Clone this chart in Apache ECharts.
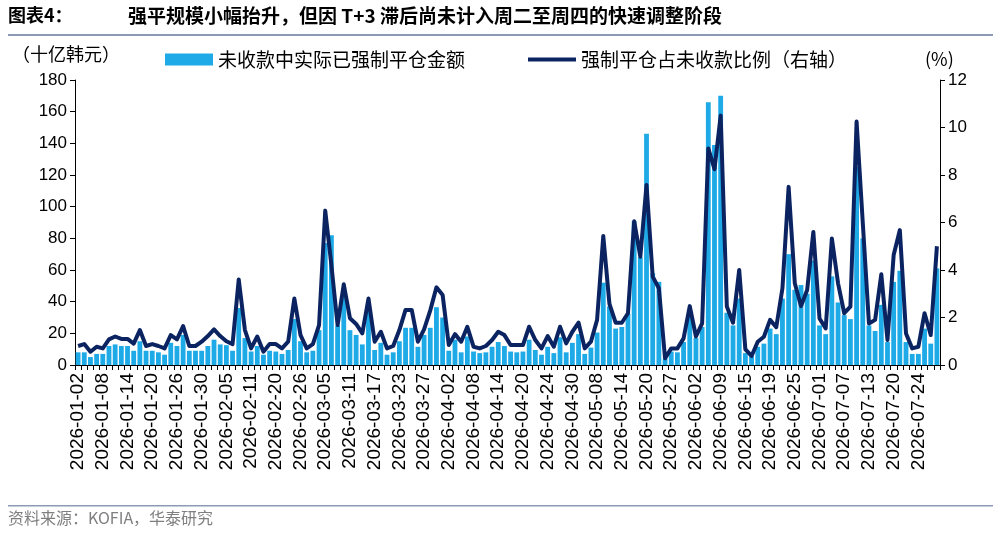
<!DOCTYPE html>
<html>
<head>
<meta charset="utf-8">
<script src="https://cdn.jsdelivr.net/npm/echarts@6/dist/echarts.min.js"></script>
<style>
  html, body { margin: 0; padding: 0; background: #fff; }
  #chart { width: 993px; height: 537px; }
</style>
</head>
<body>
<div id="chart"></div>
<script>
// --- DATEN ---
const dates = [
  '2026-01-02','2026-01-05','2026-01-06','2026-01-07','2026-01-08','2026-01-09','2026-01-12','2026-01-13','2026-01-14','2026-01-15',
  '2026-01-16','2026-01-19','2026-01-20','2026-01-21','2026-01-22','2026-01-23','2026-01-26','2026-01-27','2026-01-28','2026-01-29',
  '2026-01-30','2026-02-02','2026-02-03','2026-02-04','2026-02-05','2026-02-06','2026-02-09','2026-02-10','2026-02-11','2026-02-12',
  '2026-02-13','2026-02-19','2026-02-20','2026-02-23','2026-02-24','2026-02-25','2026-02-26','2026-02-27','2026-03-03','2026-03-04',
  '2026-03-05','2026-03-06','2026-03-09','2026-03-10','2026-03-11','2026-03-12','2026-03-13','2026-03-16','2026-03-17','2026-03-18',
  '2026-03-19','2026-03-20','2026-03-23','2026-03-24','2026-03-25','2026-03-26','2026-03-27','2026-03-30','2026-03-31','2026-04-01',
  '2026-04-02','2026-04-03','2026-04-06','2026-04-07','2026-04-08','2026-04-09','2026-04-10','2026-04-13','2026-04-14','2026-04-15',
  '2026-04-16','2026-04-17','2026-04-20','2026-04-21','2026-04-22','2026-04-23','2026-04-24','2026-04-27','2026-04-28','2026-04-29',
  '2026-04-30','2026-05-04','2026-05-06','2026-05-07','2026-05-08','2026-05-11','2026-05-12','2026-05-13','2026-05-14','2026-05-15',
  '2026-05-18','2026-05-19','2026-05-20','2026-05-21','2026-05-22','2026-05-26','2026-05-27','2026-05-28','2026-05-29','2026-06-01',
  '2026-06-02','2026-06-04','2026-06-05','2026-06-08','2026-06-09','2026-06-10','2026-06-11','2026-06-12','2026-06-15','2026-06-16',
  '2026-06-17','2026-06-18','2026-06-19','2026-06-22','2026-06-23','2026-06-24','2026-06-25','2026-06-26','2026-06-29','2026-06-30',
  '2026-07-01','2026-07-02','2026-07-03','2026-07-06','2026-07-07','2026-07-08','2026-07-09','2026-07-10','2026-07-13','2026-07-14',
  '2026-07-15','2026-07-16','2026-07-20','2026-07-21','2026-07-22','2026-07-23','2026-07-24','2026-07-27','2026-07-28','2026-07-29'
];

// 未收款中实际已强制平仓金额（十亿韩元）
const amountValues = [
  8, 8, 5, 7, 7, 12, 13, 12, 12, 9,
  15, 9, 9, 8, 6.5, 14, 12, 19, 9, 9,
  9, 12, 16, 13, 12.5, 9, 36, 17, 8.5, 12,
  6.5, 9, 8.5, 7, 9.5, 29, 15, 8, 9, 22,
  77, 82, 25, 43, 22, 19, 13, 34, 9.5, 14,
  6.5, 8, 15, 23.5, 23.5, 11.5, 19, 23.5, 36.5, 30,
  9, 16, 8, 18, 8.5, 7.5, 8, 11.5, 14.5, 12,
  8.5, 8, 8.5, 16, 9.5, 6.5, 11.5, 7.5, 17.5, 8,
  14, 19.5, 7, 11, 20.5, 52, 37, 23, 24, 32.5,
  91, 68, 146, 58, 52.5, 4, 8.5, 8, 14.5, 32.5,
  17, 24, 166, 139, 170, 33, 25, 42, 7.5, 5.5,
  11.5, 13.5, 23, 19.5, 42, 70, 47.5, 50.5, 45, 66,
  25, 19.5, 56, 39.5, 31.5, 29, 125, 80, 25, 21.5,
  38, 14.5, 52.5, 59.5, 14.5, 7, 7, 23, 13.5, 61
];

// 强制平仓占未收款比例（%，右轴）
const ratioValues = [
  0.8, 0.88, 0.56, 0.77, 0.7, 1.08, 1.2, 1.1, 1.1, 0.9,
  1.47, 0.8, 0.88, 0.8, 0.7, 1.26, 1.08, 1.64, 0.8, 0.8,
  0.98, 1.22, 1.5, 1.22, 1.0, 0.88, 3.6, 1.47, 0.7, 1.2,
  0.56, 0.88, 0.88, 0.7, 0.98, 2.8, 1.26, 0.7, 0.88, 1.68,
  6.5, 4.2, 1.68, 3.4, 1.97, 1.73, 1.33, 2.8, 0.98, 1.4,
  0.7, 0.8, 1.47, 2.32, 2.32, 0.98, 1.5, 2.3, 3.27, 2.95,
  0.84, 1.3, 0.98, 1.61, 0.77, 0.7, 0.8, 1.05, 1.4, 1.26,
  0.84, 0.84, 0.84, 1.61, 1.05, 0.7, 1.22, 0.77, 1.61, 0.91,
  1.4, 1.78, 0.7, 0.98, 1.9, 5.43, 2.57, 1.78, 1.78, 2.18,
  6.05, 4.56, 7.58, 3.72, 3.23, 0.28, 0.7, 0.7, 1.12, 2.48,
  1.2, 1.75, 9.12, 8.24, 10.5, 2.46, 1.78, 4.0, 0.66, 0.38,
  0.98, 1.19, 1.9, 1.59, 3.23, 7.5, 3.44, 2.48, 3.16, 5.6,
  1.96, 1.54, 5.33, 3.44, 2.18, 2.46, 10.25, 6.0, 1.75, 1.9,
  3.82, 1.05, 4.63, 5.68, 1.33, 0.7, 0.77, 2.18, 1.26, 5.0
];

const leftTicks = { min: 0, max: 180, interval: 20 };
const rightTicks = { min: 0, max: 12, interval: 2 };

const barName = '未收款中实际已强制平仓金额';
const lineName = '强制平仓占未收款比例（右轴）';

const titleLabel = '图表4：';
const titleText = '强平规模小幅抬升，但因 T+3 滞后尚未计入周二至周四的快速调整阶段';
const sourceText = '资料来源：KOFIA，华泰研究';

// --- CHART ---
const chart = echarts.init(document.getElementById('chart'));

const cjk = '"Noto Sans CJK SC", "Noto Sans", sans-serif';
const latin = '"Liberation Sans", Arial, sans-serif';

const barColor = '#1eaae7';
const lineColor = '#0b2461';

const axisBase = {
    axisLine: { show: true, lineStyle: { color: '#000', width: 1 } },
    axisTick: { show: true, length: 5, lineStyle: { color: '#000' } },
    splitLine: { show: false },
    axisLabel: { color: '#000', fontSize: 17, fontFamily: latin }
};

const legendText = { fontFamily: cjk, fontSize: 19, color: '#000' };

chart.setOption({
    backgroundColor: '#fff',
    animation: false,
    grid: { left: 75, right: 53, top: 80, bottom: 172, containLabel: false },
    legend: [
        {
            left: 160, top: 45,
            itemWidth: 48, itemHeight: 12, itemGap: 6,
            textStyle: legendText,
            data: [{ name: barName, icon: 'rect' }]
        },
        {
            left: 523, top: 45,
            itemWidth: 48, itemHeight: 4,
            textStyle: legendText,
            data: [{ name: lineName, icon: 'rect', itemStyle: { color: lineColor } }]
        }
    ],
    graphic: [
        {
            type: 'text', left: 8, top: 6,
            style: { text: titleLabel, fontFamily: cjk, fontSize: 18, fontWeight: 'bold', fill: '#000' }
        },
        {
            type: 'text', left: 128, top: 6,
            style: { text: titleText, fontFamily: cjk, fontSize: 19, fontWeight: 'bold', fill: '#000' }
        },
        {
            type: 'rect', shape: { x: 8, y: 34, width: 985, height: 2 },
            style: { fill: '#8c9bb5' }
        },
        {
            type: 'text', left: 12, top: 45,
            style: { text: '（十亿韩元）', fontFamily: cjk, fontSize: 18, fill: '#000' }
        },
        {
            type: 'text', left: 925, top: 50,
            style: { text: '(%)', fontFamily: cjk, fontSize: 18, fill: '#000' }
        },
        {
            type: 'rect', shape: { x: 8, y: 505, width: 985, height: 1.5 },
            style: { fill: '#8c9bb5' }
        },
        {
            type: 'text', left: 8, top: 510,
            style: { text: sourceText, fontFamily: cjk, fontSize: 16, fill: '#7f7f7f' }
        }
    ],
    xAxis: {
        type: 'category',
        data: dates,
        boundaryGap: true,
        axisLine: { show: true, lineStyle: { color: '#000', width: 1 } },
        axisTick: { show: true, interval: 0, length: 5, lineStyle: { color: '#000' } },
        axisLabel: {
            interval: 3,
            rotate: 90,
            color: '#000',
            fontSize: 19,
            fontFamily: latin,
            margin: 8
        }
    },
    yAxis: [
        {
            type: 'value',
            position: 'left',
            min: leftTicks.min, max: leftTicks.max, interval: leftTicks.interval,
            ...axisBase
        },
        {
            type: 'value',
            position: 'right',
            min: rightTicks.min, max: rightTicks.max, interval: rightTicks.interval,
            ...axisBase
        }
    ],
    series: [
        {
            name: barName,
            type: 'bar',
            yAxisIndex: 0,
            data: amountValues,
            barCategoryGap: '22%',
            itemStyle: { color: barColor }
        },
        {
            name: lineName,
            type: 'line',
            yAxisIndex: 1,
            data: ratioValues,
            symbol: 'none',
            lineStyle: { color: lineColor, width: 4, join: 'round' },
            itemStyle: { color: lineColor },
            z: 3
        }
    ]
});

window.addEventListener('resize', () => chart.resize());
</script>
</body>
</html>
